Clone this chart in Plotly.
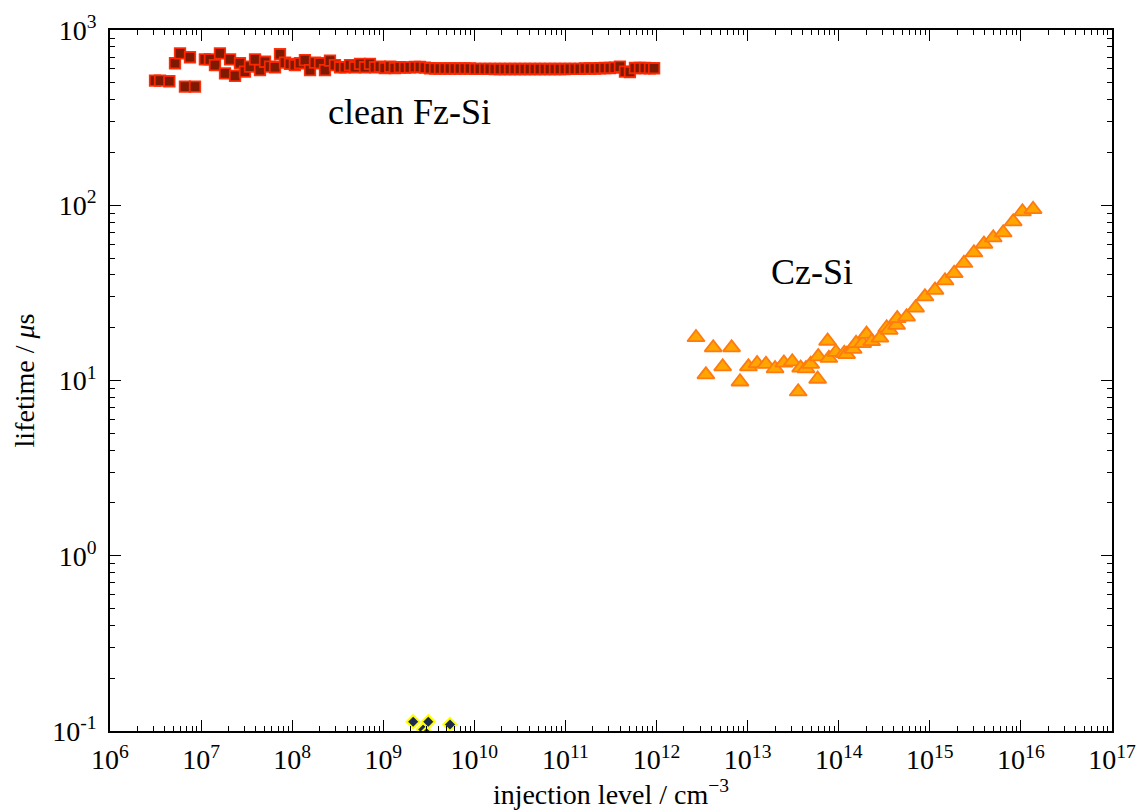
import plotly.graph_objects as go

# ---- data ----
fz_x = [3.12e6, 3.54e6, 4.48e6, 5.17e6, 5.87e6, 6.65e6, 7.55e6, 8.57e6,
        1.10e7, 1.25e7, 1.42e7, 1.61e7, 1.83e7, 2.08e7, 2.36e7, 2.67e7,
        3.03e7, 3.44e7, 3.91e7, 4.43e7, 5.03e7, 5.71e7, 6.48e7, 7.35e7,
        8.34e7, 9.46e7, 1.07e8, 1.22e8, 1.38e8, 1.57e8, 1.78e8, 2.02e8,
        2.29e8, 2.60e8, 2.95e8, 3.35e8, 3.80e8, 4.31e8, 4.89e8, 5.55e8,
        6.30e8, 7.14e8, 8.11e8, 9.20e8, 1.04e9, 1.19e9, 1.34e9, 1.52e9,
        1.73e9, 1.96e9, 2.23e9, 2.53e9, 2.87e9, 3.26e9, 3.70e9, 4.19e9,
        4.76e9, 5.40e9, 6.13e9, 6.95e9, 7.89e9, 8.95e9, 1.02e10, 1.15e10,
        1.31e10, 1.48e10, 1.68e10, 1.91e10, 2.17e10, 2.46e10, 2.79e10,
        3.17e10, 3.59e10, 4.08e10, 4.63e10, 5.25e10, 5.96e10, 6.76e10,
        7.67e10, 8.70e10, 9.88e10, 1.12e11, 1.27e11, 1.44e11, 1.64e11,
        1.86e11, 2.11e11, 2.39e11, 2.71e11, 3.08e11, 3.49e11, 3.96e11,
        4.50e11, 5.10e11, 5.79e11, 6.57e11, 7.46e11, 8.46e11, 9.40e11]
fz_y = [514, 514, 510, 646, 736, 475, 699, 475,
        680, 680, 631, 736, 566, 680, 548, 646,
        578, 618, 680, 591, 659, 618, 613, 727,
        651, 640, 631, 646, 673, 591, 651, 646,
        591, 668, 631, 613, 613, 631, 613, 640,
        613, 640, 613, 618, 607, 618, 607, 613,
        610, 612, 615, 615, 610, 605, 603, 603,
        603, 603, 603, 603, 603, 603, 600, 600,
        600, 600, 599, 599, 599, 599, 599,
        599, 599, 599, 599, 599, 599, 599,
        599, 599, 599, 600, 600, 600, 603,
        603, 603, 605, 607, 607, 610, 618,
        578, 576, 607, 607, 607, 605, 605]

cz_x = [2.71e12, 3.48e12, 4.19e12, 5.32e12, 6.67e12, 8.24e12, 1.02e13,
        1.27e13, 1.59e13, 2.00e13, 2.50e13, 3.09e13, 3.59e13, 3.82e13,
        4.37e13, 4.92e13, 5.87e13, 5.96e13, 7.55e13, 7.80e13, 9.31e13,
        1.15e14, 1.22e14, 1.44e14, 1.55e14, 1.83e14, 2.02e14, 2.30e14,
        2.83e14, 3.36e14, 3.58e14, 4.32e14, 4.39e14, 5.56e14, 6.98e14,
        8.84e14, 1.14e15, 1.47e15, 1.85e15, 2.37e15, 3.05e15, 3.93e15,
        4.97e15, 6.39e15, 8.23e15, 1.04e16, 1.36e16]
cz_y = [17.6, 10.8, 15.4, 12.0, 15.4, 9.84, 12.0,
        12.5, 12.4, 11.7, 12.6, 12.8, 8.63, 11.8,
        11.7, 12.4, 10.2, 13.7, 16.8, 13.4, 14.5,
        14.3, 14.1, 15.1, 16.3, 16.3, 18.4, 16.7,
        17.5, 20.0, 19.4, 20.7, 22.6, 23.1, 26.0,
        30.1, 32.8, 37.1, 40.9, 46.7, 53.6, 60.1,
        65.3, 69.7, 80.6, 91.9, 94.8]

cont_x = [2.13e9, 2.60e9, 2.75e9, 3.00e9, 3.12e9, 5.40e9]
cont_y = [0.113, 0.095, 0.102, 0.097, 0.113, 0.109]

x_exps = [6, 7, 8, 9, 10, 11, 12, 13, 14, 15, 16, 17]
y_exps = [-1, 0, 1, 2, 3]

serif = "Liberation Serif, Times New Roman, serif"

fig = go.Figure()
fig.add_trace(go.Scatter(
    x=fz_x, y=fz_y, mode="markers", name="clean Fz-Si",
    marker=dict(symbol="square", size=10.5, color="#7e1a02",
                line=dict(color="rgba(255,40,0,0.95)", width=1.8))))
fig.add_trace(go.Scatter(
    x=cz_x, y=cz_y, mode="markers", name="Cz-Si",
    marker=dict(symbol="triangle-up", size=15, color="#ffa600",
                line=dict(color="#ff7a10", width=1.8))))
fig.add_trace(go.Scatter(
    x=cont_x, y=cont_y, mode="markers", name="contaminated",
    marker=dict(symbol="diamond", size=10, color="#1b2a4e",
                line=dict(color="#ffff00", width=2))))

fig.add_annotation(x=9.293, y=2.532, xref="x", yref="y", text="clean Fz-Si",
                   showarrow=False, font=dict(family=serif, size=36, color="black"))
fig.add_annotation(x=13.706, y=1.619, xref="x", yref="y", text="Cz-Si",
                   showarrow=False, font=dict(family=serif, size=36, color="black"))

axis_common = dict(
    type="log", tickmode="array",
    ticks="inside", ticklen=11, tickwidth=1.3, tickcolor="black",
    minor=dict(ticks="inside", ticklen=5, tickwidth=1.1, tickcolor="black",
               dtick="D1", showgrid=False),
    showline=True, linecolor="black", linewidth=1.5, mirror="allticks",
    showgrid=False, zeroline=False,
    tickfont=dict(family=serif, size=28, color="black"),
)

fig.update_xaxes(range=[6, 17],
                 tickvals=[10.0 ** e for e in x_exps],
                 ticktext=[f"10<sup>{e}</sup>" for e in x_exps],
                 ticklabelstandoff=3,
                 title=dict(text="injection level / cm<sup>−3</sup>",
                            font=dict(family=serif, size=28, color="black"),
                            standoff=0),
                 **axis_common)
fig.update_yaxes(range=[-1, 3],
                 tickvals=[10.0 ** e for e in y_exps],
                 ticktext=[f"10<sup>{e}</sup>" for e in y_exps],
                 ticklabelstandoff=6,
                 title=dict(text="lifetime / <i>μ</i>s",
                            font=dict(family=serif, size=28, color="black"),
                            standoff=10),
                 **axis_common)

fig.update_layout(
    width=1147, height=812,
    margin=dict(l=110, r=35, t=30, b=81),
    plot_bgcolor="white", paper_bgcolor="white",
    showlegend=False,
)

fig.write_html("out.html")
